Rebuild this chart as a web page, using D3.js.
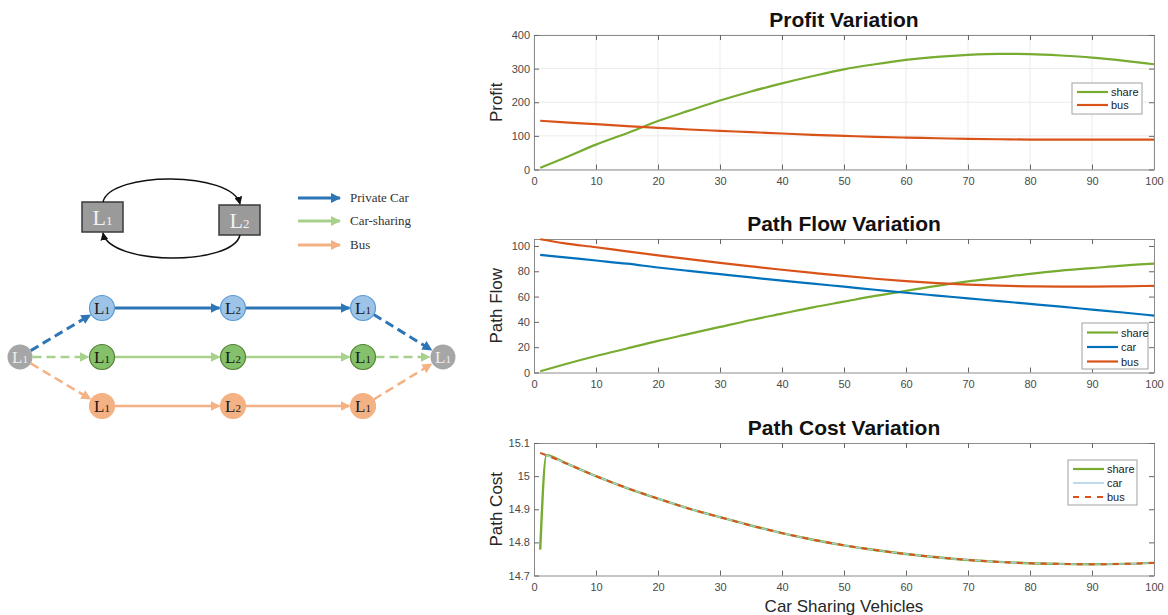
<!DOCTYPE html>
<html>
<head>
<meta charset="utf-8">
<script src="https://cdn.jsdelivr.net/npm/d3@7"></script>
<style>
  body { margin: 0; background: #fff; }
  svg { display: block; }
</style>
</head>
<body>
<div id="main"></div>
<script>
// ---- data ----
var profitX = [1, 5, 10, 15, 20, 25, 30, 35, 40, 45, 50, 55, 60, 65, 70, 75, 80, 85, 90, 95, 100];
var profitShare = [5, 35, 74, 108, 144, 175, 205, 232, 256, 278, 298, 313, 326, 335, 341, 344, 343, 339, 333, 324, 313];
var profitBus = [145, 140, 135, 129, 124, 119, 115, 111, 107, 103, 100, 97, 95, 93, 91, 90, 89, 89, 89, 89, 89];

var flowX = [1, 5, 10, 15, 20, 25, 30, 35, 40, 45, 50, 55, 60, 65, 70, 75, 80, 85, 90, 95, 100];
var flowShare = [1, 6.5, 13, 19, 25, 30.5, 36, 41.5, 46.5, 51.5, 56, 60.5, 64.5, 68.5, 72, 75, 78, 80.5, 82.5, 84.5, 86];
var flowCar = [93, 91, 88.5, 86, 83, 80.3, 77.7, 75.1, 72.6, 70.2, 67.8, 65.4, 63, 60.8, 58.6, 56.4, 54.2, 52, 49.7, 47.4, 45];
var flowBus = [105.3, 102, 99, 95.7, 92.6, 89.6, 86.7, 83.9, 81.2, 78.7, 76.3, 74.1, 72.2, 70.6, 69.4, 68.6, 68.1, 67.9, 67.9, 68.1, 68.5];

var costX = [1, 2, 5, 10, 15, 20, 25, 30, 35, 40, 45, 50, 55, 60, 65, 70, 75, 80, 85, 90, 95, 100];
var costCar = [15.07, 15.063, 15.04, 15.0, 14.964, 14.932, 14.902, 14.876, 14.851, 14.828, 14.808, 14.791, 14.777, 14.765, 14.755, 14.747, 14.741, 14.737, 14.735, 14.734, 14.735, 14.738];
var costBus = costCar.slice();
var costShare = [14.778].concat(costCar.slice(1));

var xTicks = [0, 10, 20, 30, 40, 50, 60, 70, 80, 90, 100];
var profitTicks = [0, 100, 200, 300, 400];
var flowTicks = [0, 20, 40, 60, 80, 100];
var costTicks = [14.7, 14.8, 14.9, 15.0, 15.1];

var modeNames = ['Private Car', 'Car-sharing', 'Bus'];
var nodeCols = ['L1', 'L2', 'L1'];

var GREEN = '#77AC30', BLUE = '#0072BD', ORANGE = '#D95319', LIGHTBLUE = '#a9cfe6';

var width = 1168, height = 615;
var svg = d3.select('#main').append('svg').attr('width', width).attr('height', height);

// ---- left diagram ----
var modeColors = ['#2E75B6', '#A9D18E', '#F4B183'];
var nodeFill = ['#9DC3E6', '#85C06A', '#F4B183'];
var nodeStroke = ['#5B9BD5', '#548235', '#F4B183'];

var defs = svg.append('defs');
function marker(id, color, size) {
  defs.append('marker')
    .attr('id', id)
    .attr('viewBox', '0 0 10 10')
    .attr('refX', 9).attr('refY', 5)
    .attr('markerWidth', size).attr('markerHeight', size)
    .attr('markerUnits', 'userSpaceOnUse')
    .attr('orient', 'auto')
    .append('path').attr('d', 'M0,0L10,5L0,10Z').attr('fill', color);
}
marker('m_black', '#111', 8);
modeColors.forEach(function (c, i) { marker('m_' + i, c, 10); });

function lText(g, x, y, name, big, small, color) {
  var t = g.append('text').attr('x', x).attr('y', y)
    .attr('text-anchor', 'middle')
    .attr('font-family', 'Liberation Serif, Times New Roman, serif')
    .attr('fill', color);
  t.append('tspan').attr('font-size', big).text(name[0]);
  t.append('tspan').attr('font-size', small).text(name.slice(1));
  return t;
}

var left = svg.append('g');

// two-zone loop
var boxes = [{ name: 'L1', x: 82, y: 202 }, { name: 'L2', x: 219, y: 205 }];
boxes.forEach(function (b) {
  left.append('rect').attr('x', b.x).attr('y', b.y).attr('width', 41).attr('height', 30)
    .attr('fill', '#9a9a9a').attr('stroke', '#3a3a3a').attr('stroke-width', 1.5);
  lText(left, b.x + 20.5, b.y + 23, b.name, 22, 13, '#f2f2f2');
});
left.append('path').attr('d', 'M103,202 C110,171 232,171 240,204')
  .attr('fill', 'none').attr('stroke', '#111').attr('stroke-width', 1.5)
  .attr('marker-end', 'url(#m_black)');
left.append('path').attr('d', 'M240,235 C233,266 110,266 103,233')
  .attr('fill', 'none').attr('stroke', '#111').attr('stroke-width', 1.5)
  .attr('marker-end', 'url(#m_black)');

// mode legend
var legY = [198, 221, 245];
modeNames.forEach(function (m, i) {
  left.append('line').attr('x1', 298).attr('x2', 340).attr('y1', legY[i]).attr('y2', legY[i])
    .attr('stroke', modeColors[i]).attr('stroke-width', 3)
    .attr('marker-end', 'url(#m_' + i + ')');
  left.append('text').attr('x', 350).attr('y', legY[i] + 4)
    .attr('font-family', 'Liberation Serif, Times New Roman, serif')
    .attr('font-size', 13).attr('fill', '#333').text(m);
});

// path network
var colX = [102, 233, 363];
var rowY = [308, 357, 406];
var src = { x: 20, y: 357 }, dst = { x: 443, y: 357 };
var R = 12.5;

function edge(a, b, i, dashed) {
  var dx = b.x - a.x, dy = b.y - a.y, L = Math.sqrt(dx * dx + dy * dy);
  var ux = dx / L, uy = dy / L;
  left.append('line')
    .attr('x1', a.x + ux * R).attr('y1', a.y + uy * R)
    .attr('x2', b.x - ux * (R + 1)).attr('y2', b.y - uy * (R + 1))
    .attr('stroke', modeColors[i]).attr('stroke-width', i === 0 ? 3 : 2.5)
    .attr('stroke-dasharray', dashed ? '9,5' : null)
    .attr('marker-end', 'url(#m_' + i + ')');
}

rowY.forEach(function (y, i) {
  var pts = colX.map(function (x) { return { x: x, y: y }; });
  edge(src, pts[0], i, true);
  edge(pts[0], pts[1], i, false);
  edge(pts[1], pts[2], i, false);
  edge(pts[2], dst, i, true);
});

[src, dst].forEach(function (p) {
  left.append('circle').attr('cx', p.x).attr('cy', p.y).attr('r', R).attr('fill', '#a6a6a6');
  lText(left, p.x, p.y + 6, 'L1', 17, 11, '#eeeeee');
});
rowY.forEach(function (y, i) {
  colX.forEach(function (x, j) {
    left.append('circle').attr('cx', x).attr('cy', y).attr('r', R)
      .attr('fill', nodeFill[i]).attr('stroke', nodeStroke[i]).attr('stroke-width', 1.2);
    lText(left, x, y + 6, nodeCols[j], 17, 11, '#1a1a1a');
  });
});

// ---- right charts ----
var plotL = 534, plotR = 1154;
var xScale = d3.scaleLinear().domain([0, 100]).range([plotL, plotR]);

function panel(opt) {
  var y = d3.scaleLinear().domain(opt.domain).range([opt.bottom, opt.top]);
  var g = svg.append('g');

  g.append('rect').attr('x', plotL).attr('y', opt.top)
    .attr('width', plotR - plotL).attr('height', opt.bottom - opt.top).attr('fill', '#fff');

  if (opt.grid) {
    g.selectAll('.gx').data(xTicks).enter().append('line')
      .attr('x1', xScale).attr('x2', xScale).attr('y1', opt.top).attr('y2', opt.bottom)
      .attr('stroke', '#ebebeb').attr('stroke-width', 1);
    g.selectAll('.gy').data(opt.ticks).enter().append('line')
      .attr('x1', plotL).attr('x2', plotR).attr('y1', y).attr('y2', y)
      .attr('stroke', '#ebebeb').attr('stroke-width', 1);
  }

  var axisColor = '#8c8c8c', labelColor = '#4a4a4a';
  var ax = [
    g.append('g').attr('transform', 'translate(0,' + opt.bottom + ')')
      .call(d3.axisBottom(xScale).tickValues(xTicks).tickSizeInner(-5).tickSizeOuter(0).tickPadding(8)),
    g.append('g').attr('transform', 'translate(0,' + opt.top + ')')
      .call(d3.axisTop(xScale).tickValues(xTicks).tickSizeInner(-5).tickSizeOuter(0).tickFormat('')),
    g.append('g').attr('transform', 'translate(' + plotL + ',0)')
      .call(d3.axisLeft(y).tickValues(opt.ticks).tickSizeInner(-5).tickSizeOuter(0).tickPadding(4)
        .tickFormat(opt.fmt || d3.format('d'))),
    g.append('g').attr('transform', 'translate(' + plotR + ',0)')
      .call(d3.axisRight(y).tickValues(opt.ticks).tickSizeInner(-5).tickSizeOuter(0).tickFormat(''))
  ];
  ax.forEach(function (a) {
    a.select('.domain').attr('stroke', axisColor);
    a.selectAll('.tick line').attr('stroke', '#666');
    a.selectAll('text').attr('fill', labelColor).attr('font-size', 11)
      .attr('font-family', 'Liberation Sans, Arial, sans-serif');
  });

  var line = d3.line()
    .x(function (d) { return xScale(d[0]); })
    .y(function (d) { return y(d[1]); })
    .curve(d3.curveMonotoneX);

  opt.series.forEach(function (s) {
    g.append('path')
      .datum(opt.x.map(function (xv, i) { return [xv, s.values[i]]; }))
      .attr('d', line)
      .attr('fill', 'none').attr('stroke', s.color).attr('stroke-width', s.width || 2.2)
      .attr('stroke-dasharray', s.dash || null);
  });

  // title and y label
  svg.append('text').attr('x', (plotL + plotR) / 2).attr('y', opt.top - 8)
    .attr('text-anchor', 'middle').attr('font-family', 'Liberation Sans, Arial, sans-serif')
    .attr('font-weight', 'bold').attr('font-size', 21).attr('fill', '#111').text(opt.title);
  svg.append('text')
    .attr('transform', 'translate(502,' + ((opt.top + opt.bottom) / 2) + ') rotate(-90)')
    .attr('text-anchor', 'middle').attr('font-family', 'Liberation Sans, Arial, sans-serif')
    .attr('font-size', 17).attr('fill', '#262626').text(opt.ylabel);

  // legend
  var lg = opt.legend;
  var lb = g.append('g').attr('transform', 'translate(' + lg.x + ',' + lg.y + ')');
  lb.append('rect').attr('width', lg.w).attr('height', lg.h)
    .attr('fill', '#fff').attr('stroke', '#a0a0a0').attr('stroke-width', 1);
  opt.series.forEach(function (s, i) {
    var ry = lg.pad + i * lg.step;
    lb.append('line').attr('x1', 5).attr('x2', 36).attr('y1', ry).attr('y2', ry)
      .attr('stroke', s.color).attr('stroke-width', s.legWidth || 2.2)
      .attr('stroke-dasharray', s.dash || null);
    lb.append('text').attr('x', 39).attr('y', ry + 4)
      .attr('font-family', 'Liberation Sans, Arial, sans-serif').attr('font-size', 11)
      .attr('fill', '#222').text(s.name);
  });
}

panel({
  title: 'Profit Variation', ylabel: 'Profit', top: 35, bottom: 169.5,
  domain: [0, 400], ticks: profitTicks, grid: true, x: profitX,
  series: [
    { name: 'share', values: profitShare, color: GREEN },
    { name: 'bus', values: profitBus, color: ORANGE }
  ],
  legend: { x: 1072, y: 83, w: 70, h: 31, pad: 9, step: 13 }
});

panel({
  title: 'Path Flow Variation', ylabel: 'Path Flow', top: 239, bottom: 372.5,
  domain: [0, 105.5], ticks: flowTicks, grid: false, x: flowX,
  series: [
    { name: 'share', values: flowShare, color: GREEN },
    { name: 'car', values: flowCar, color: BLUE },
    { name: 'bus', values: flowBus, color: ORANGE }
  ],
  legend: { x: 1082, y: 323, w: 66, h: 46, pad: 9.5, step: 14.5 }
});

panel({
  title: 'Path Cost Variation', ylabel: 'Path Cost', top: 443, bottom: 575.5,
  domain: [14.7, 15.1], ticks: costTicks, grid: false, x: costX,
  fmt: function (d) { return d3.format('.1f')(d).replace('.0', ''); },
  series: [
    { name: 'share', values: costShare, color: GREEN, width: 2.4 },
    { name: 'car', values: costCar, color: LIGHTBLUE, width: 1.2, legWidth: 1.5 },
    { name: 'bus', values: costBus, color: ORANGE, width: 2, dash: '6,6' }
  ],
  legend: { x: 1068, y: 460, w: 69, h: 45, pad: 9, step: 14 }
});

svg.append('text').attr('x', (plotL + plotR) / 2).attr('y', 612)
  .attr('text-anchor', 'middle').attr('font-family', 'Liberation Sans, Arial, sans-serif')
  .attr('font-size', 17).attr('fill', '#262626').text('Car Sharing Vehicles');
</script>
</body>
</html>
